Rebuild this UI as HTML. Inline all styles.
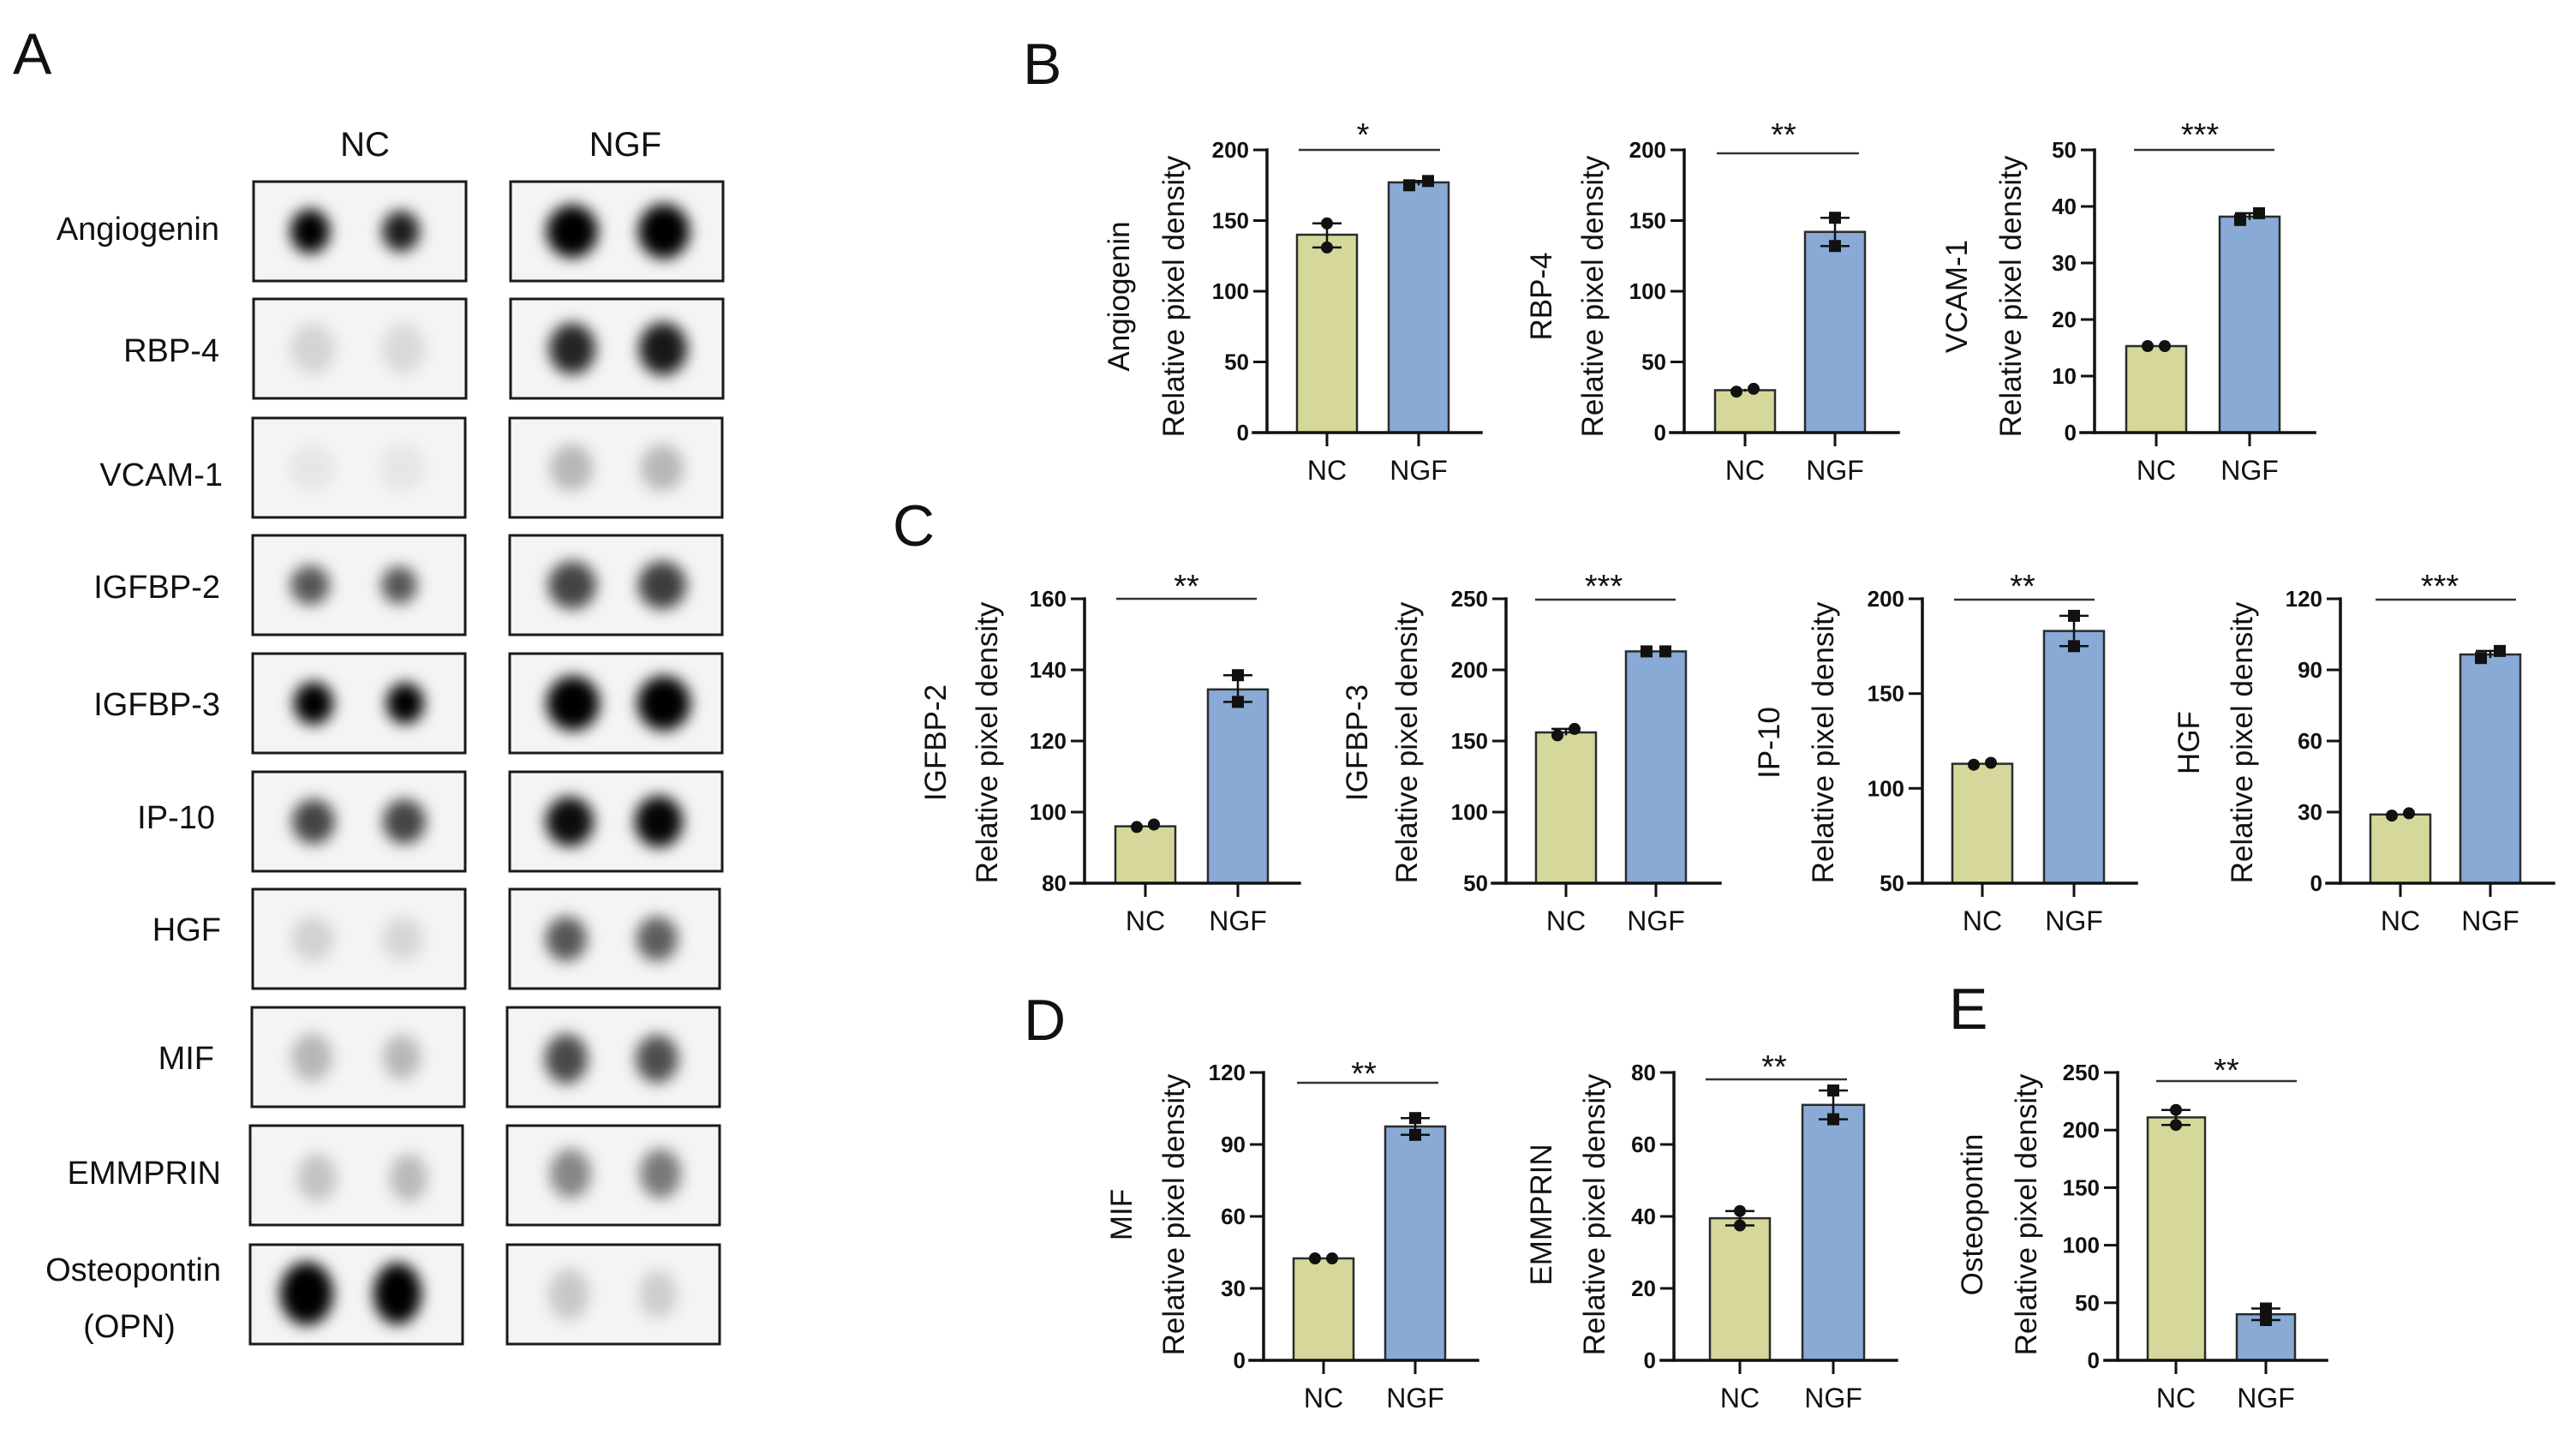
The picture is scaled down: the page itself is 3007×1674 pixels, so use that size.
<!DOCTYPE html>
<html><head><meta charset="utf-8"><title>Figure</title>
<style>
html,body{margin:0;padding:0;background:#fff;}
svg{display:block;}
text{font-family:"Liberation Sans",Arial,sans-serif;fill:#111;}
.ax{stroke:#111;stroke-width:3.5;fill:none;stroke-linecap:square}
.tk{stroke:#111;stroke-width:3}
.tl{font-size:26px;font-weight:bold;text-anchor:end}
.xl{font-size:32px;text-anchor:middle}
.yl{font-size:35px;text-anchor:middle}
.nc{fill:#d6d89b;stroke:#2b2b2b;stroke-width:2.5}
.ngf{fill:#88aad5;stroke:#2b2b2b;stroke-width:2.5}
.eb{stroke:#111;stroke-width:2.5}
.sg{stroke:#333;stroke-width:2.5}
.st{font-size:38px;text-anchor:middle}
.pl{font-size:68px}
.bl{font-size:38px;text-anchor:end}
.box{fill:none;stroke:#1a1a1a;stroke-width:3}
.bg{fill:#f4f4f4}
</style></head>
<body>
<svg width="3007" height="1674" viewBox="0 0 3007 1674" xmlns="http://www.w3.org/2000/svg">
<defs>
<filter id="bl" x="-60%" y="-60%" width="220%" height="220%"><feGaussianBlur stdDeviation="8.5"/></filter>
</defs>
<rect width="3007" height="1674" fill="#fff"/>

<!-- Panel letters -->
<text class="pl" x="15" y="86">A</text>
<text class="pl" x="1194" y="98">B</text>
<text class="pl" x="1042" y="637">C</text>
<text class="pl" x="1195" y="1214">D</text>
<text class="pl" x="2275" y="1201">E</text>

<!-- Panel A headers -->
<text x="426" y="182" style="font-size:40px;text-anchor:middle">NC</text>
<text x="730" y="182" style="font-size:40px;text-anchor:middle">NGF</text>

<!-- Blot backgrounds -->
<g class="bg">
<rect x="296" y="212" width="248" height="116"/><rect x="596" y="212" width="248" height="116"/>
<rect x="296" y="349" width="248" height="116"/><rect x="596" y="349" width="248" height="116"/>
<rect x="295" y="488" width="248" height="116"/><rect x="595" y="488" width="248" height="116"/>
<rect x="295" y="625" width="248" height="116"/><rect x="595" y="625" width="248" height="116"/>
<rect x="295" y="763" width="248" height="116"/><rect x="595" y="763" width="248" height="116"/>
<rect x="295" y="901" width="248" height="116"/><rect x="595" y="901" width="248" height="116"/>
<rect x="295" y="1038" width="248" height="116"/><rect x="595" y="1038" width="245" height="116"/>
<rect x="294" y="1176" width="248" height="116"/><rect x="592" y="1176" width="248" height="116"/>
<rect x="292" y="1314" width="248" height="116"/><rect x="592" y="1314" width="248" height="116"/>
<rect x="292" y="1453" width="248" height="116"/><rect x="592" y="1453" width="248" height="116"/>
</g>

<!-- Spots -->
<g filter="url(#bl)" fill="#000">
<ellipse cx="362" cy="270" rx="23" ry="26" fill-opacity="1"/>
<ellipse cx="468" cy="270" rx="22" ry="24" fill-opacity="0.88"/>
<ellipse cx="668" cy="270" rx="30" ry="31" fill-opacity="1"/>
<ellipse cx="775" cy="270" rx="30" ry="32" fill-opacity="1"/>

<ellipse cx="365" cy="407" rx="26" ry="30" fill-opacity="0.13"/>
<ellipse cx="471" cy="407" rx="25" ry="30" fill-opacity="0.11"/>
<ellipse cx="668" cy="407" rx="27" ry="30" fill-opacity="0.85"/>
<ellipse cx="774" cy="407" rx="28" ry="31" fill-opacity="0.9"/>

<ellipse cx="364" cy="546" rx="26" ry="28" fill-opacity="0.06"/>
<ellipse cx="470" cy="546" rx="26" ry="28" fill-opacity="0.06"/>
<ellipse cx="667" cy="546" rx="25" ry="27" fill-opacity="0.25"/>
<ellipse cx="773" cy="546" rx="25" ry="27" fill-opacity="0.25"/>

<ellipse cx="362" cy="683" rx="23" ry="23" fill-opacity="0.65"/>
<ellipse cx="466" cy="683" rx="21" ry="22" fill-opacity="0.65"/>
<ellipse cx="668" cy="683" rx="28" ry="28" fill-opacity="0.72"/>
<ellipse cx="773" cy="683" rx="28" ry="28" fill-opacity="0.75"/>

<ellipse cx="366" cy="821" rx="23" ry="25" fill-opacity="1"/>
<ellipse cx="473" cy="821" rx="22" ry="24" fill-opacity="1"/>
<ellipse cx="669" cy="821" rx="31" ry="32" fill-opacity="1"/>
<ellipse cx="775" cy="821" rx="31" ry="32" fill-opacity="1"/>

<ellipse cx="366" cy="959" rx="25" ry="26" fill-opacity="0.72"/>
<ellipse cx="472" cy="959" rx="25" ry="26" fill-opacity="0.72"/>
<ellipse cx="665" cy="959" rx="28" ry="29" fill-opacity="0.95"/>
<ellipse cx="769" cy="959" rx="28" ry="30" fill-opacity="0.98"/>

<ellipse cx="365" cy="1096" rx="25" ry="26" fill-opacity="0.14"/>
<ellipse cx="470" cy="1096" rx="24" ry="26" fill-opacity="0.12"/>
<ellipse cx="661" cy="1096" rx="24" ry="26" fill-opacity="0.65"/>
<ellipse cx="767" cy="1096" rx="24" ry="26" fill-opacity="0.62"/>

<ellipse cx="364" cy="1234" rx="24" ry="28" fill-opacity="0.25"/>
<ellipse cx="469" cy="1234" rx="22" ry="26" fill-opacity="0.25"/>
<ellipse cx="661" cy="1236" rx="25" ry="29" fill-opacity="0.7"/>
<ellipse cx="767" cy="1236" rx="25" ry="28" fill-opacity="0.68"/>

<ellipse cx="370" cy="1375" rx="23" ry="28" fill-opacity="0.2"/>
<ellipse cx="477" cy="1375" rx="22" ry="28" fill-opacity="0.24"/>
<ellipse cx="666" cy="1370" rx="24" ry="29" fill-opacity="0.45"/>
<ellipse cx="771" cy="1370" rx="24" ry="29" fill-opacity="0.5"/>

<ellipse cx="358" cy="1510" rx="31" ry="37" fill-opacity="1"/>
<ellipse cx="464" cy="1510" rx="28" ry="36" fill-opacity="1"/>
<ellipse cx="664" cy="1511" rx="24" ry="30" fill-opacity="0.18"/>
<ellipse cx="768" cy="1511" rx="22" ry="28" fill-opacity="0.16"/>
</g>

<!-- Blot borders -->
<g class="box">
<rect x="296" y="212" width="248" height="116"/><rect x="596" y="212" width="248" height="116"/>
<rect x="296" y="349" width="248" height="116"/><rect x="596" y="349" width="248" height="116"/>
<rect x="295" y="488" width="248" height="116"/><rect x="595" y="488" width="248" height="116"/>
<rect x="295" y="625" width="248" height="116"/><rect x="595" y="625" width="248" height="116"/>
<rect x="295" y="763" width="248" height="116"/><rect x="595" y="763" width="248" height="116"/>
<rect x="295" y="901" width="248" height="116"/><rect x="595" y="901" width="248" height="116"/>
<rect x="295" y="1038" width="248" height="116"/><rect x="595" y="1038" width="245" height="116"/>
<rect x="294" y="1176" width="248" height="116"/><rect x="592" y="1176" width="248" height="116"/>
<rect x="292" y="1314" width="248" height="116"/><rect x="592" y="1314" width="248" height="116"/>
<rect x="292" y="1453" width="248" height="116"/><rect x="592" y="1453" width="248" height="116"/>
</g>

<!-- Blot labels -->
<text class="bl" x="256" y="280">Angiogenin</text>
<text class="bl" x="256" y="422">RBP-4</text>
<text class="bl" x="260" y="567">VCAM-1</text>
<text class="bl" x="257" y="698">IGFBP-2</text>
<text class="bl" x="257" y="835">IGFBP-3</text>
<text class="bl" x="251" y="967">IP-10</text>
<text class="bl" x="258" y="1098">HGF</text>
<text class="bl" x="250" y="1248">MIF</text>
<text class="bl" x="258" y="1382">EMMPRIN</text>
<text class="bl" x="258" y="1495">Osteopontin</text>
<text x="151" y="1561" style="font-size:38px;text-anchor:middle">(OPN)</text>

<!-- ================= B1 Angiogenin ================= -->
<g>
<rect class="nc" x="1514" y="274" width="70" height="231"/>
<rect class="ngf" x="1621" y="212.9" width="70" height="292.1"/>
<line class="ax" x1="1479" y1="175" x2="1479" y2="505"/>
<line class="ax" x1="1463" y1="505" x2="1729" y2="505"/>
<line class="tk" x1="1463" y1="505" x2="1479" y2="505"/>
<line class="tk" x1="1463" y1="422.5" x2="1479" y2="422.5"/>
<line class="tk" x1="1463" y1="340" x2="1479" y2="340"/>
<line class="tk" x1="1463" y1="257.5" x2="1479" y2="257.5"/>
<line class="tk" x1="1463" y1="175" x2="1479" y2="175"/>
<text class="tl" x="1458" y="514">0</text>
<text class="tl" x="1458" y="431.5">50</text>
<text class="tl" x="1458" y="349">100</text>
<text class="tl" x="1458" y="266.5">150</text>
<text class="tl" x="1458" y="184">200</text>
<line class="tk" x1="1549" y1="505" x2="1549" y2="521"/>
<line class="tk" x1="1656" y1="505" x2="1656" y2="521"/>
<line class="eb" x1="1549" y1="260.8" x2="1549" y2="288.9"/>
<line class="eb" x1="1532" y1="260.8" x2="1566" y2="260.8"/>
<line class="eb" x1="1532" y1="288.9" x2="1566" y2="288.9"/>
<circle cx="1549" cy="260.8" r="7" fill="#111"/>
<circle cx="1549" cy="288.9" r="7" fill="#111"/>
<line class="eb" x1="1656" y1="211.3" x2="1656" y2="216.3"/>
<line class="eb" x1="1639" y1="211.3" x2="1673" y2="211.3"/>
<rect x="1638" y="209.3" width="14" height="14" fill="#111"/>
<rect x="1660" y="204.3" width="14" height="14" fill="#111"/>
<line class="sg" x1="1516" y1="175" x2="1681" y2="175"/>
<text class="st" x="1591" y="170">*</text>
<text class="xl" x="1549" y="560">NC</text>
<text class="xl" x="1656" y="560">NGF</text>
<text class="yl" transform="translate(1318,346) rotate(-90)">Angiogenin</text>
<text class="yl" transform="translate(1382,346) rotate(-90)">Relative pixel density</text>
</g>

<!-- ================= B2 RBP-4 ================= -->
<g>
<rect class="nc" x="2002" y="455.5" width="70" height="49.5"/>
<rect class="ngf" x="2107" y="270.7" width="70" height="234.3"/>
<line class="ax" x1="1966" y1="175" x2="1966" y2="505"/>
<line class="ax" x1="1950" y1="505" x2="2216" y2="505"/>
<line class="tk" x1="1950" y1="505" x2="1966" y2="505"/>
<line class="tk" x1="1950" y1="422.5" x2="1966" y2="422.5"/>
<line class="tk" x1="1950" y1="340" x2="1966" y2="340"/>
<line class="tk" x1="1950" y1="257.5" x2="1966" y2="257.5"/>
<line class="tk" x1="1950" y1="175" x2="1966" y2="175"/>
<text class="tl" x="1945" y="514">0</text>
<text class="tl" x="1945" y="431.5">50</text>
<text class="tl" x="1945" y="349">100</text>
<text class="tl" x="1945" y="266.5">150</text>
<text class="tl" x="1945" y="184">200</text>
<line class="tk" x1="2037" y1="505" x2="2037" y2="521"/>
<line class="tk" x1="2142" y1="505" x2="2142" y2="521"/>
<line class="eb" x1="2037" y1="453.9" x2="2037" y2="457.2"/>
<circle cx="2027" cy="457.2" r="7" fill="#111"/>
<circle cx="2047" cy="453.9" r="7" fill="#111"/>
<line class="eb" x1="2142" y1="254.2" x2="2142" y2="287.2"/>
<line class="eb" x1="2125" y1="254.2" x2="2159" y2="254.2"/>
<line class="eb" x1="2125" y1="287.2" x2="2159" y2="287.2"/>
<rect x="2135" y="247.2" width="14" height="14" fill="#111"/>
<rect x="2135" y="280.2" width="14" height="14" fill="#111"/>
<line class="sg" x1="2004" y1="179" x2="2170" y2="179"/>
<text class="st" x="2082" y="170">**</text>
<text class="xl" x="2037" y="560">NC</text>
<text class="xl" x="2142" y="560">NGF</text>
<text class="yl" transform="translate(1811,346) rotate(-90)">RBP-4</text>
<text class="yl" transform="translate(1871,346) rotate(-90)">Relative pixel density</text>
</g>

<!-- ================= B3 VCAM-1 ================= -->
<g>
<rect class="nc" x="2482" y="404" width="70" height="101"/>
<rect class="ngf" x="2591" y="252.9" width="70" height="252.1"/>
<line class="ax" x1="2445" y1="175" x2="2445" y2="505"/>
<line class="ax" x1="2429" y1="505" x2="2702" y2="505"/>
<line class="tk" x1="2429" y1="505" x2="2445" y2="505"/>
<line class="tk" x1="2429" y1="439" x2="2445" y2="439"/>
<line class="tk" x1="2429" y1="373" x2="2445" y2="373"/>
<line class="tk" x1="2429" y1="307" x2="2445" y2="307"/>
<line class="tk" x1="2429" y1="241" x2="2445" y2="241"/>
<line class="tk" x1="2429" y1="175" x2="2445" y2="175"/>
<text class="tl" x="2424" y="514">0</text>
<text class="tl" x="2424" y="448">10</text>
<text class="tl" x="2424" y="382">20</text>
<text class="tl" x="2424" y="316">30</text>
<text class="tl" x="2424" y="250">40</text>
<text class="tl" x="2424" y="184">50</text>
<line class="tk" x1="2517" y1="505" x2="2517" y2="521"/>
<line class="tk" x1="2626" y1="505" x2="2626" y2="521"/>
<circle cx="2507" cy="404" r="7" fill="#111"/>
<circle cx="2527" cy="404" r="7" fill="#111"/>
<line class="eb" x1="2626" y1="248.9" x2="2626" y2="256.8"/>
<line class="eb" x1="2609" y1="248.9" x2="2643" y2="248.9"/>
<rect x="2608" y="249.8" width="14" height="14" fill="#111"/>
<rect x="2630" y="241.9" width="14" height="14" fill="#111"/>
<line class="sg" x1="2491" y1="175" x2="2655" y2="175"/>
<text class="st" x="2568" y="170">***</text>
<text class="xl" x="2517" y="560">NC</text>
<text class="xl" x="2626" y="560">NGF</text>
<text class="yl" transform="translate(2296,346) rotate(-90)">VCAM-1</text>
<text class="yl" transform="translate(2359,346) rotate(-90)">Relative pixel density</text>
</g>

<!-- ================= C1 IGFBP-2 ================= -->
<g>
<rect class="nc" x="1302" y="964.6" width="70" height="66.4"/>
<rect class="ngf" x="1410" y="804.8" width="70" height="226.2"/>
<line class="ax" x1="1266" y1="699" x2="1266" y2="1031"/>
<line class="ax" x1="1250" y1="1031" x2="1517" y2="1031"/>
<line class="tk" x1="1250" y1="1031" x2="1266" y2="1031"/>
<line class="tk" x1="1250" y1="948" x2="1266" y2="948"/>
<line class="tk" x1="1250" y1="865" x2="1266" y2="865"/>
<line class="tk" x1="1250" y1="782" x2="1266" y2="782"/>
<line class="tk" x1="1250" y1="699" x2="1266" y2="699"/>
<text class="tl" x="1245" y="1040">80</text>
<text class="tl" x="1245" y="957">100</text>
<text class="tl" x="1245" y="874">120</text>
<text class="tl" x="1245" y="791">140</text>
<text class="tl" x="1245" y="708">160</text>
<line class="tk" x1="1337" y1="1031" x2="1337" y2="1047"/>
<line class="tk" x1="1445" y1="1031" x2="1445" y2="1047"/>
<circle cx="1327" cy="965.4" r="7" fill="#111"/>
<circle cx="1347" cy="962.5" r="7" fill="#111"/>
<line class="eb" x1="1445" y1="788.2" x2="1445" y2="819.4"/>
<line class="eb" x1="1428" y1="788.2" x2="1462" y2="788.2"/>
<line class="eb" x1="1428" y1="819.4" x2="1462" y2="819.4"/>
<rect x="1438" y="781.2" width="14" height="14" fill="#111"/>
<rect x="1438" y="812.4" width="14" height="14" fill="#111"/>
<line class="sg" x1="1303" y1="699" x2="1467" y2="699"/>
<text class="st" x="1385" y="697">**</text>
<text class="xl" x="1337" y="1086">NC</text>
<text class="xl" x="1445" y="1086">NGF</text>
<text class="yl" transform="translate(1104,867) rotate(-90)">IGFBP-2</text>
<text class="yl" transform="translate(1164,867) rotate(-90)">Relative pixel density</text>
</g>

<!-- ================= C2 IGFBP-3 ================= -->
<g>
<rect class="nc" x="1793" y="855" width="70" height="176"/>
<rect class="ngf" x="1898" y="760.4" width="70" height="270.6"/>
<line class="ax" x1="1758" y1="699" x2="1758" y2="1031"/>
<line class="ax" x1="1742" y1="1031" x2="2008" y2="1031"/>
<line class="tk" x1="1742" y1="1031" x2="1758" y2="1031"/>
<line class="tk" x1="1742" y1="948" x2="1758" y2="948"/>
<line class="tk" x1="1742" y1="865" x2="1758" y2="865"/>
<line class="tk" x1="1742" y1="782" x2="1758" y2="782"/>
<line class="tk" x1="1742" y1="699" x2="1758" y2="699"/>
<text class="tl" x="1737" y="1040">50</text>
<text class="tl" x="1737" y="957">100</text>
<text class="tl" x="1737" y="874">150</text>
<text class="tl" x="1737" y="791">200</text>
<text class="tl" x="1737" y="708">250</text>
<line class="tk" x1="1828" y1="1031" x2="1828" y2="1047"/>
<line class="tk" x1="1933" y1="1031" x2="1933" y2="1047"/>
<line class="eb" x1="1828" y1="850.9" x2="1828" y2="858.4"/>
<line class="eb" x1="1811" y1="850.9" x2="1845" y2="850.9"/>
<circle cx="1818" cy="858.4" r="7" fill="#111"/>
<circle cx="1838" cy="850.9" r="7" fill="#111"/>
<rect x="1915" y="753.4" width="14" height="14" fill="#111"/>
<rect x="1937" y="753.4" width="14" height="14" fill="#111"/>
<line class="sg" x1="1792" y1="700" x2="1956" y2="700"/>
<text class="st" x="1872" y="697">***</text>
<text class="xl" x="1828" y="1086">NC</text>
<text class="xl" x="1933" y="1086">NGF</text>
<text class="yl" transform="translate(1596,867) rotate(-90)">IGFBP-3</text>
<text class="yl" transform="translate(1654,867) rotate(-90)">Relative pixel density</text>
</g>

<!-- ================= C3 IP-10 ================= -->
<g>
<rect class="nc" x="2279" y="891.6" width="70" height="139.4"/>
<rect class="ngf" x="2386" y="736.6" width="70" height="294.4"/>
<line class="ax" x1="2244" y1="699" x2="2244" y2="1031"/>
<line class="ax" x1="2228" y1="1031" x2="2494" y2="1031"/>
<line class="tk" x1="2228" y1="1031" x2="2244" y2="1031"/>
<line class="tk" x1="2228" y1="920.3" x2="2244" y2="920.3"/>
<line class="tk" x1="2228" y1="809.7" x2="2244" y2="809.7"/>
<line class="tk" x1="2228" y1="699" x2="2244" y2="699"/>
<text class="tl" x="2223" y="1040">50</text>
<text class="tl" x="2223" y="929.3">100</text>
<text class="tl" x="2223" y="818.7">150</text>
<text class="tl" x="2223" y="708">200</text>
<line class="tk" x1="2314" y1="1031" x2="2314" y2="1047"/>
<line class="tk" x1="2421" y1="1031" x2="2421" y2="1047"/>
<circle cx="2304" cy="892.7" r="7" fill="#111"/>
<circle cx="2324" cy="890.5" r="7" fill="#111"/>
<line class="eb" x1="2421" y1="718.9" x2="2421" y2="754.3"/>
<line class="eb" x1="2404" y1="718.9" x2="2438" y2="718.9"/>
<line class="eb" x1="2404" y1="754.3" x2="2438" y2="754.3"/>
<rect x="2414" y="711.9" width="14" height="14" fill="#111"/>
<rect x="2414" y="747.3" width="14" height="14" fill="#111"/>
<line class="sg" x1="2281" y1="700" x2="2445" y2="700"/>
<text class="st" x="2361" y="697">**</text>
<text class="xl" x="2314" y="1086">NC</text>
<text class="xl" x="2421" y="1086">NGF</text>
<text class="yl" transform="translate(2077,867) rotate(-90)">IP-10</text>
<text class="yl" transform="translate(2140,867) rotate(-90)">Relative pixel density</text>
</g>

<!-- ================= C4 HGF ================= -->
<g>
<rect class="nc" x="2767" y="950.8" width="70" height="80.2"/>
<rect class="ngf" x="2872" y="764" width="70" height="267"/>
<line class="ax" x1="2732" y1="699" x2="2732" y2="1031"/>
<line class="ax" x1="2716" y1="1031" x2="2981" y2="1031"/>
<line class="tk" x1="2716" y1="1031" x2="2732" y2="1031"/>
<line class="tk" x1="2716" y1="948" x2="2732" y2="948"/>
<line class="tk" x1="2716" y1="865" x2="2732" y2="865"/>
<line class="tk" x1="2716" y1="782" x2="2732" y2="782"/>
<line class="tk" x1="2716" y1="699" x2="2732" y2="699"/>
<text class="tl" x="2711" y="1040">0</text>
<text class="tl" x="2711" y="957">30</text>
<text class="tl" x="2711" y="874">60</text>
<text class="tl" x="2711" y="791">90</text>
<text class="tl" x="2711" y="708">120</text>
<line class="tk" x1="2802" y1="1031" x2="2802" y2="1047"/>
<line class="tk" x1="2907" y1="1031" x2="2907" y2="1047"/>
<circle cx="2792" cy="952.1" r="7" fill="#111"/>
<circle cx="2812" cy="949.4" r="7" fill="#111"/>
<line class="eb" x1="2907" y1="759.9" x2="2907" y2="768.2"/>
<line class="eb" x1="2890" y1="759.9" x2="2924" y2="759.9"/>
<rect x="2889" y="761.2" width="14" height="14" fill="#111"/>
<rect x="2911" y="752.9" width="14" height="14" fill="#111"/>
<line class="sg" x1="2773" y1="700" x2="2937" y2="700"/>
<text class="st" x="2848" y="697">***</text>
<text class="xl" x="2802" y="1086">NC</text>
<text class="xl" x="2907" y="1086">NGF</text>
<text class="yl" transform="translate(2567,867) rotate(-90)">HGF</text>
<text class="yl" transform="translate(2629,867) rotate(-90)">Relative pixel density</text>
</g>

<!-- ================= D1 MIF ================= -->
<g>
<rect class="nc" x="1510" y="1469" width="70" height="119"/>
<rect class="ngf" x="1617" y="1315" width="70" height="273"/>
<line class="ax" x1="1475" y1="1252" x2="1475" y2="1588"/>
<line class="ax" x1="1459" y1="1588" x2="1725" y2="1588"/>
<line class="tk" x1="1459" y1="1588" x2="1475" y2="1588"/>
<line class="tk" x1="1459" y1="1504" x2="1475" y2="1504"/>
<line class="tk" x1="1459" y1="1420" x2="1475" y2="1420"/>
<line class="tk" x1="1459" y1="1336" x2="1475" y2="1336"/>
<line class="tk" x1="1459" y1="1252" x2="1475" y2="1252"/>
<text class="tl" x="1454" y="1597">0</text>
<text class="tl" x="1454" y="1513">30</text>
<text class="tl" x="1454" y="1429">60</text>
<text class="tl" x="1454" y="1345">90</text>
<text class="tl" x="1454" y="1261">120</text>
<line class="tk" x1="1545" y1="1588" x2="1545" y2="1604"/>
<line class="tk" x1="1652" y1="1588" x2="1652" y2="1604"/>
<circle cx="1535" cy="1469" r="7" fill="#111"/>
<circle cx="1555" cy="1469" r="7" fill="#111"/>
<line class="eb" x1="1652" y1="1305.2" x2="1652" y2="1324.8"/>
<line class="eb" x1="1635" y1="1305.2" x2="1669" y2="1305.2"/>
<line class="eb" x1="1635" y1="1324.8" x2="1669" y2="1324.8"/>
<rect x="1645" y="1298.2" width="14" height="14" fill="#111"/>
<rect x="1645" y="1317.8" width="14" height="14" fill="#111"/>
<line class="sg" x1="1514" y1="1264" x2="1679" y2="1264"/>
<text class="st" x="1592" y="1266">**</text>
<text class="xl" x="1545" y="1643">NC</text>
<text class="xl" x="1652" y="1643">NGF</text>
<text class="yl" transform="translate(1321,1418) rotate(-90)">MIF</text>
<text class="yl" transform="translate(1382,1418) rotate(-90)">Relative pixel density</text>
</g>

<!-- ================= D2 EMMPRIN ================= -->
<g>
<rect class="nc" x="1996" y="1422.1" width="70" height="165.9"/>
<rect class="ngf" x="2104" y="1289.8" width="72" height="298.2"/>
<line class="ax" x1="1954" y1="1252" x2="1954" y2="1588"/>
<line class="ax" x1="1939" y1="1588" x2="2214" y2="1588"/>
<line class="tk" x1="1938" y1="1588" x2="1954" y2="1588"/>
<line class="tk" x1="1938" y1="1504" x2="1954" y2="1504"/>
<line class="tk" x1="1938" y1="1420" x2="1954" y2="1420"/>
<line class="tk" x1="1938" y1="1336" x2="1954" y2="1336"/>
<line class="tk" x1="1938" y1="1252" x2="1954" y2="1252"/>
<text class="tl" x="1933" y="1597">0</text>
<text class="tl" x="1933" y="1513">20</text>
<text class="tl" x="1933" y="1429">40</text>
<text class="tl" x="1933" y="1345">60</text>
<text class="tl" x="1933" y="1261">80</text>
<line class="tk" x1="2031" y1="1588" x2="2031" y2="1604"/>
<line class="tk" x1="2140" y1="1588" x2="2140" y2="1604"/>
<line class="eb" x1="2031" y1="1413.7" x2="2031" y2="1430.5"/>
<line class="eb" x1="2014" y1="1413.7" x2="2048" y2="1413.7"/>
<line class="eb" x1="2014" y1="1430.5" x2="2048" y2="1430.5"/>
<circle cx="2031" cy="1413.7" r="7" fill="#111"/>
<circle cx="2031" cy="1430.5" r="7" fill="#111"/>
<line class="eb" x1="2140" y1="1273" x2="2140" y2="1306.6"/>
<line class="eb" x1="2123" y1="1273" x2="2157" y2="1273"/>
<line class="eb" x1="2123" y1="1306.6" x2="2157" y2="1306.6"/>
<rect x="2133" y="1266" width="14" height="14" fill="#111"/>
<rect x="2133" y="1299.6" width="14" height="14" fill="#111"/>
<line class="sg" x1="1991" y1="1260" x2="2156" y2="1260"/>
<text class="st" x="2071" y="1258">**</text>
<text class="xl" x="2031" y="1643">NC</text>
<text class="xl" x="2140" y="1643">NGF</text>
<text class="yl" transform="translate(1811,1418) rotate(-90)">EMMPRIN</text>
<text class="yl" transform="translate(1873,1418) rotate(-90)">Relative pixel density</text>
</g>

<!-- ================= E Osteopontin ================= -->
<g>
<rect class="nc" x="2507" y="1304.4" width="67" height="283.6"/>
<rect class="ngf" x="2611" y="1534.2" width="68" height="53.8"/>
<line class="ax" x1="2472" y1="1252" x2="2472" y2="1588"/>
<line class="ax" x1="2457" y1="1588" x2="2716" y2="1588"/>
<line class="tk" x1="2456" y1="1588" x2="2472" y2="1588"/>
<line class="tk" x1="2456" y1="1520.8" x2="2472" y2="1520.8"/>
<line class="tk" x1="2456" y1="1453.6" x2="2472" y2="1453.6"/>
<line class="tk" x1="2456" y1="1386.4" x2="2472" y2="1386.4"/>
<line class="tk" x1="2456" y1="1319.2" x2="2472" y2="1319.2"/>
<line class="tk" x1="2456" y1="1252" x2="2472" y2="1252"/>
<text class="tl" x="2451" y="1597">0</text>
<text class="tl" x="2451" y="1529.8">50</text>
<text class="tl" x="2451" y="1462.6">100</text>
<text class="tl" x="2451" y="1395.4">150</text>
<text class="tl" x="2451" y="1328.2">200</text>
<text class="tl" x="2451" y="1261">250</text>
<line class="tk" x1="2540" y1="1588" x2="2540" y2="1604"/>
<line class="tk" x1="2645" y1="1588" x2="2645" y2="1604"/>
<line class="eb" x1="2540" y1="1295.7" x2="2540" y2="1313.2"/>
<line class="eb" x1="2523" y1="1295.7" x2="2557" y2="1295.7"/>
<line class="eb" x1="2523" y1="1313.2" x2="2557" y2="1313.2"/>
<circle cx="2540" cy="1295.7" r="7" fill="#111"/>
<circle cx="2540" cy="1313.2" r="7" fill="#111"/>
<line class="eb" x1="2645" y1="1527.5" x2="2645" y2="1541"/>
<line class="eb" x1="2628" y1="1527.5" x2="2662" y2="1527.5"/>
<line class="eb" x1="2628" y1="1541" x2="2662" y2="1541"/>
<rect x="2638" y="1520.5" width="14" height="14" fill="#111"/>
<rect x="2638" y="1534" width="14" height="14" fill="#111"/>
<line class="sg" x1="2517" y1="1262" x2="2681" y2="1262"/>
<text class="st" x="2599" y="1262">**</text>
<text class="xl" x="2540" y="1643">NC</text>
<text class="xl" x="2645" y="1643">NGF</text>
<text class="yl" transform="translate(2314,1418) rotate(-90)">Osteopontin</text>
<text class="yl" transform="translate(2377,1418) rotate(-90)">Relative pixel density</text>
</g>
</svg>
</body></html>
